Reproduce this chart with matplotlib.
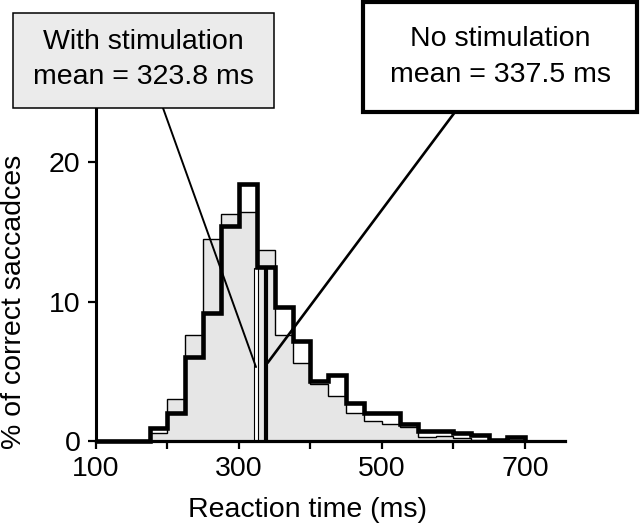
import numpy as np
import matplotlib
matplotlib.use("Agg")
import matplotlib.pyplot as plt
from matplotlib.patches import Rectangle

plt.rcParams['font.family'] = ['Liberation Sans', 'DejaVu Sans']
plt.rcParams['font.size'] = 20.5

# --- data (25 ms bins, % of correct saccades) ---
bin_edges = np.arange(100, 725, 25)
with_stim = [0, 0, 0, 0.6, 3.0, 7.6, 14.5, 16.3, 16.4, 13.7, 7.6, 5.6,
             4.1, 3.2, 2.0, 1.4, 1.2, 1.0, 0.3, 0.35, 0.2, 0.1, 0, 0.1]
no_stim = [0, 0, 0, 0.9, 2.0, 6.0, 9.2, 15.4, 18.4, 12.5, 9.6, 7.2,
           4.3, 4.7, 2.7, 2.0, 2.0, 1.2, 0.75, 0.7, 0.6, 0.43, 0.1, 0.3]
mean_with = 323.8
mean_no = 337.5
mean_with_height = 12.4
mean_no_height = 12.5
# where the callout lines touch the histogram
tip_with = (323.8, 5.3)
tip_no = (340, 5.6)

x_ticks = [100, 200, 300, 400, 500, 600, 700]
x_tick_labels = ['100', '', '300', '', '500', '', '700']
y_ticks = [0, 10, 20]

W, H = 640, 530


def fpx(x, y):
    # pixel position (from top-left) -> figure fraction
    return (x / W, 1 - y / H)


fig = plt.figure(figsize=(W / 100, H / 100), dpi=100)
ax = fig.add_axes([96 / W, 1 - 441 / H, (565 - 96) / W, 348.75 / H])
ax.set_xlim(100, 756)
ax.set_ylim(0, 25)

gray = '#e6e6e6'
ax.stairs(with_stim, bin_edges, fill=True, color=gray, zorder=1)
ax.stairs(with_stim, bin_edges, color='k', lw=1.0, zorder=2)
ax.bar(mean_with, mean_with_height, width=4.5, color='white',
       edgecolor='k', lw=0.8, zorder=2.2)
thick = ax.stairs(no_stim, bin_edges, color='k', lw=3.3, zorder=3,
                  clip_on=False)
thick.set_joinstyle('miter')
ax.vlines(mean_no, 0, mean_no_height, color='k', lw=3.0, zorder=3)

for s in ['top', 'right']:
    ax.spines[s].set_visible(False)
ax.spines['left'].set_linewidth(2.2)
ax.spines['bottom'].set_linewidth(2.3)
ax.tick_params(direction='out', length=6, width=1.6, pad=5,
               labelsize=20.5, colors='k')
ax.set_xticks(x_ticks)
ax.set_xticklabels(x_tick_labels)
ax.set_yticks(y_ticks)

ax.set_xlabel('Reaction time (ms)')
ax.xaxis.set_label_coords(0.451, -0.16)
ax.set_ylabel('% of correct saccadces')
ax.yaxis.set_label_coords(-0.147, 0.4)

# callout lines from the boxes to the mean markers
ax.annotate('', xy=tip_with, xycoords='data', xytext=fpx(163, 108),
            textcoords='figure fraction', annotation_clip=False,
            arrowprops=dict(arrowstyle='-', lw=1.4, color='k',
                            shrinkA=0, shrinkB=0), zorder=5)
ax.annotate('', xy=tip_no, xycoords='data', xytext=fpx(455, 112),
            textcoords='figure fraction', annotation_clip=False,
            arrowprops=dict(arrowstyle='-', lw=1.9, color='k',
                            shrinkA=0, shrinkB=0), zorder=5)

# text boxes
fig.add_artist(Rectangle(fpx(12.5, 108), 261 / W, 95 / H,
                         transform=fig.transFigure, fc='#ebebeb',
                         ec='k', lw=1.1, zorder=5))
fig.add_artist(Rectangle(fpx(363, 111.5), 274 / W, 109.5 / H,
                         transform=fig.transFigure, fc='white',
                         ec='k', lw=3.0, zorder=5))

fig.text(*fpx(143, 49), 'With stimulation', ha='center', va='baseline', zorder=6)
fig.text(*fpx(143, 84), f'mean = {mean_with} ms', ha='center', va='baseline', zorder=6)
fig.text(*fpx(500, 46), 'No stimulation', ha='center', va='baseline', zorder=6)
fig.text(*fpx(500, 82), f'mean = {mean_no} ms', ha='center', va='baseline', zorder=6)

fig.savefig('out.png', dpi=100)
